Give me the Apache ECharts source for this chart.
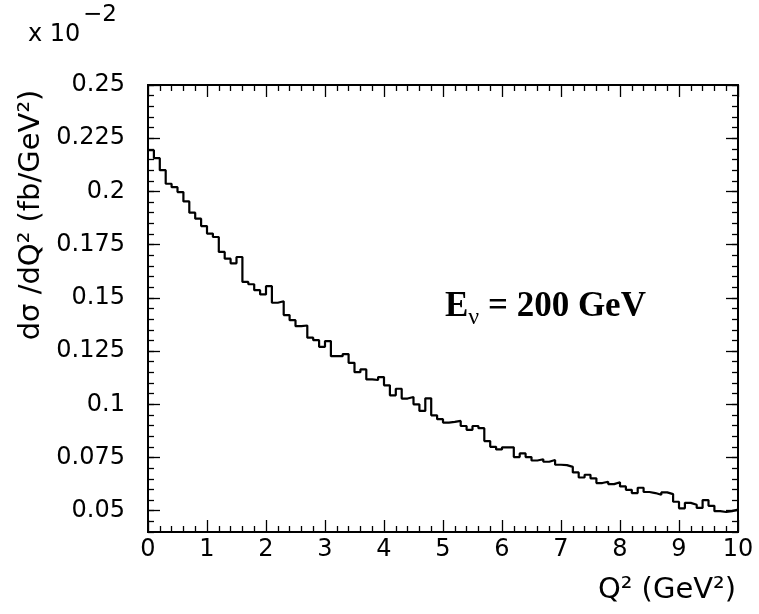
<!DOCTYPE html>
<html>
<head>
<meta charset="utf-8">
<script src="https://cdn.jsdelivr.net/npm/echarts@6/dist/echarts.min.js"></script>
<style>html,body{margin:0;padding:0;background:#fff;}#c{width:759px;height:614px;}</style>
</head>
<body>
<div id="c"></div>
<script>
// Histogram: 100 bins of Q^2 from 0 to 10 GeV^2
const q2Min = 0;
const q2Max = 10;
// dσ/dQ² values per bin (in units of 10^-2 fb/GeV²)
const dsigma = [
  0.2194, 0.2156, 0.2100, 0.2036, 0.2020, 0.1997, 0.1953, 0.1900, 0.1872, 0.1837,
  0.1802, 0.1786, 0.1716, 0.1684, 0.1662, 0.1692, 0.1575, 0.1564, 0.1536, 0.1516,
  0.1555, 0.1477, 0.1484, 0.1419, 0.1395, 0.1367, 0.1370, 0.1313, 0.1301, 0.1270,
  0.1297, 0.1226, 0.1226, 0.1236, 0.1195, 0.1151, 0.1164, 0.1117, 0.1114, 0.1128,
  0.1089, 0.1042, 0.1073, 0.1027, 0.1034, 0.1000, 0.0969, 0.1028, 0.0948, 0.0930,
  0.0914, 0.0917, 0.0922, 0.0898, 0.0880, 0.0898, 0.0888, 0.0827, 0.0800, 0.0788,
  0.0798, 0.0798, 0.0752, 0.0769, 0.0752, 0.0736, 0.0742, 0.0730, 0.0738, 0.0716,
  0.0714, 0.0706, 0.0680, 0.0656, 0.0669, 0.0652, 0.0630, 0.0636, 0.0625, 0.0634,
  0.0614, 0.0598, 0.0583, 0.0608, 0.0588, 0.0583, 0.0575, 0.0586, 0.0578, 0.0542,
  0.0511, 0.0537, 0.0528, 0.0513, 0.0550, 0.0523, 0.0498, 0.0494, 0.0498, 0.0505
];
const yMin = 0.04;
const yMax = 0.25;
const yMajorTicks = [0.05, 0.075, 0.1, 0.125, 0.15, 0.175, 0.2, 0.225, 0.25];

const binW = (q2Max - q2Min) / dsigma.length;
const points = dsigma.map((v, i) => [q2Min + i * binW, v]);
points.push([q2Max, dsigma[dsigma.length - 1]]);

const FONT = 'DejaVu Sans';
const lineC = '#000';

function xAx(pos, labels) {
  return {
    type: 'value', position: pos, min: q2Min, max: q2Max, interval: 1,
    axisLine: { show: true, onZero: false, lineStyle: { color: lineC, width: 2 } },
    axisTick: { show: true, inside: true, length: 12, lineStyle: { color: lineC, width: 1.3 } },
    minorTick: { show: true, splitNumber: 5, length: 6, lineStyle: { color: lineC, width: 1.3 } },
    splitLine: { show: false }, minorSplitLine: { show: false },
    axisLabel: { show: labels, margin: 6, color: '#000', fontFamily: FONT, fontSize: 24 }
  };
}
function yMinor(pos) {
  return {
    type: 'value', position: pos, min: yMin, max: yMax, interval: 0.005,
    axisLine: { show: true, onZero: false, lineStyle: { color: lineC, width: 2 } },
    axisTick: { show: true, inside: true, length: 6, lineStyle: { color: lineC, width: 1.3 } },
    splitLine: { show: false },
    axisLabel: { show: false }
  };
}
function yMajor(pos, labels) {
  return {
    type: 'value', position: pos, min: yMin, max: yMax,
    axisLine: { show: true, onZero: false, lineStyle: { color: lineC, width: 2 } },
    axisTick: { show: true, inside: true, length: 12, customValues: yMajorTicks, lineStyle: { color: lineC, width: 1.3 } },
    splitLine: { show: false },
    axisLabel: {
      show: labels, customValues: yMajorTicks, margin: 23, color: '#000',
      fontFamily: FONT, fontSize: 24,
      formatter: v => String(+(+v).toFixed(3))
    }
  };
}

const chart = echarts.init(document.getElementById('c'), null, { renderer: 'canvas' });
chart.setOption({
  animation: false,
  backgroundColor: '#fff',
  grid: { left: 148, right: 21, top: 85, bottom: 82, containLabel: false },
  xAxis: [xAx('bottom', true), xAx('top', false)],
  yAxis: [yMinor('left'), yMajor('left', true), yMinor('right'), yMajor('right', false)],
  series: [{
    type: 'line', step: 'end', xAxisIndex: 0, yAxisIndex: 0,
    data: points, showSymbol: false, symbol: 'none',
    lineStyle: { color: '#000', width: 2.2 }, clip: true
  }],
  graphic: [
    { type: 'text', left: 28, top: 23, style: { text: 'x 10', fontFamily: FONT, fontSize: 24, fill: '#000' } },
    { type: 'text', left: 83, top: 4, style: { text: '\u22122', fontFamily: FONT, fontSize: 23, fill: '#000' } },
    { type: 'text', x: 31, y: 215, rotation: Math.PI / 2,
      style: { text: 'd\u03c3 /dQ\u00b2 (fb/GeV\u00b2)', fontFamily: FONT, fontSize: 29, fill: '#000', align: 'center', verticalAlign: 'middle' } },
    { type: 'text', x: 736, y: 590,
      style: { text: 'Q\u00b2 (GeV\u00b2)', fontFamily: FONT, fontSize: 29, fill: '#000', align: 'right', verticalAlign: 'middle' } },
    { type: 'text', x: 445, y: 307,
      style: {
        text: '{e|E}{n|\u03bd}{r| = 200 GeV}',
        align: 'left', verticalAlign: 'middle',
        rich: {
          e: { fontFamily: 'Liberation Serif', fontWeight: 'bold', fontSize: 35, fill: '#000' },
          n: { fontFamily: 'Liberation Serif', fontSize: 24, fill: '#000', padding: [22, 0, 0, 0] },
          r: { fontFamily: 'Liberation Serif', fontWeight: 'bold', fontSize: 35, fill: '#000' }
        }
      } }
  ]
});
</script>
</body>
</html>
